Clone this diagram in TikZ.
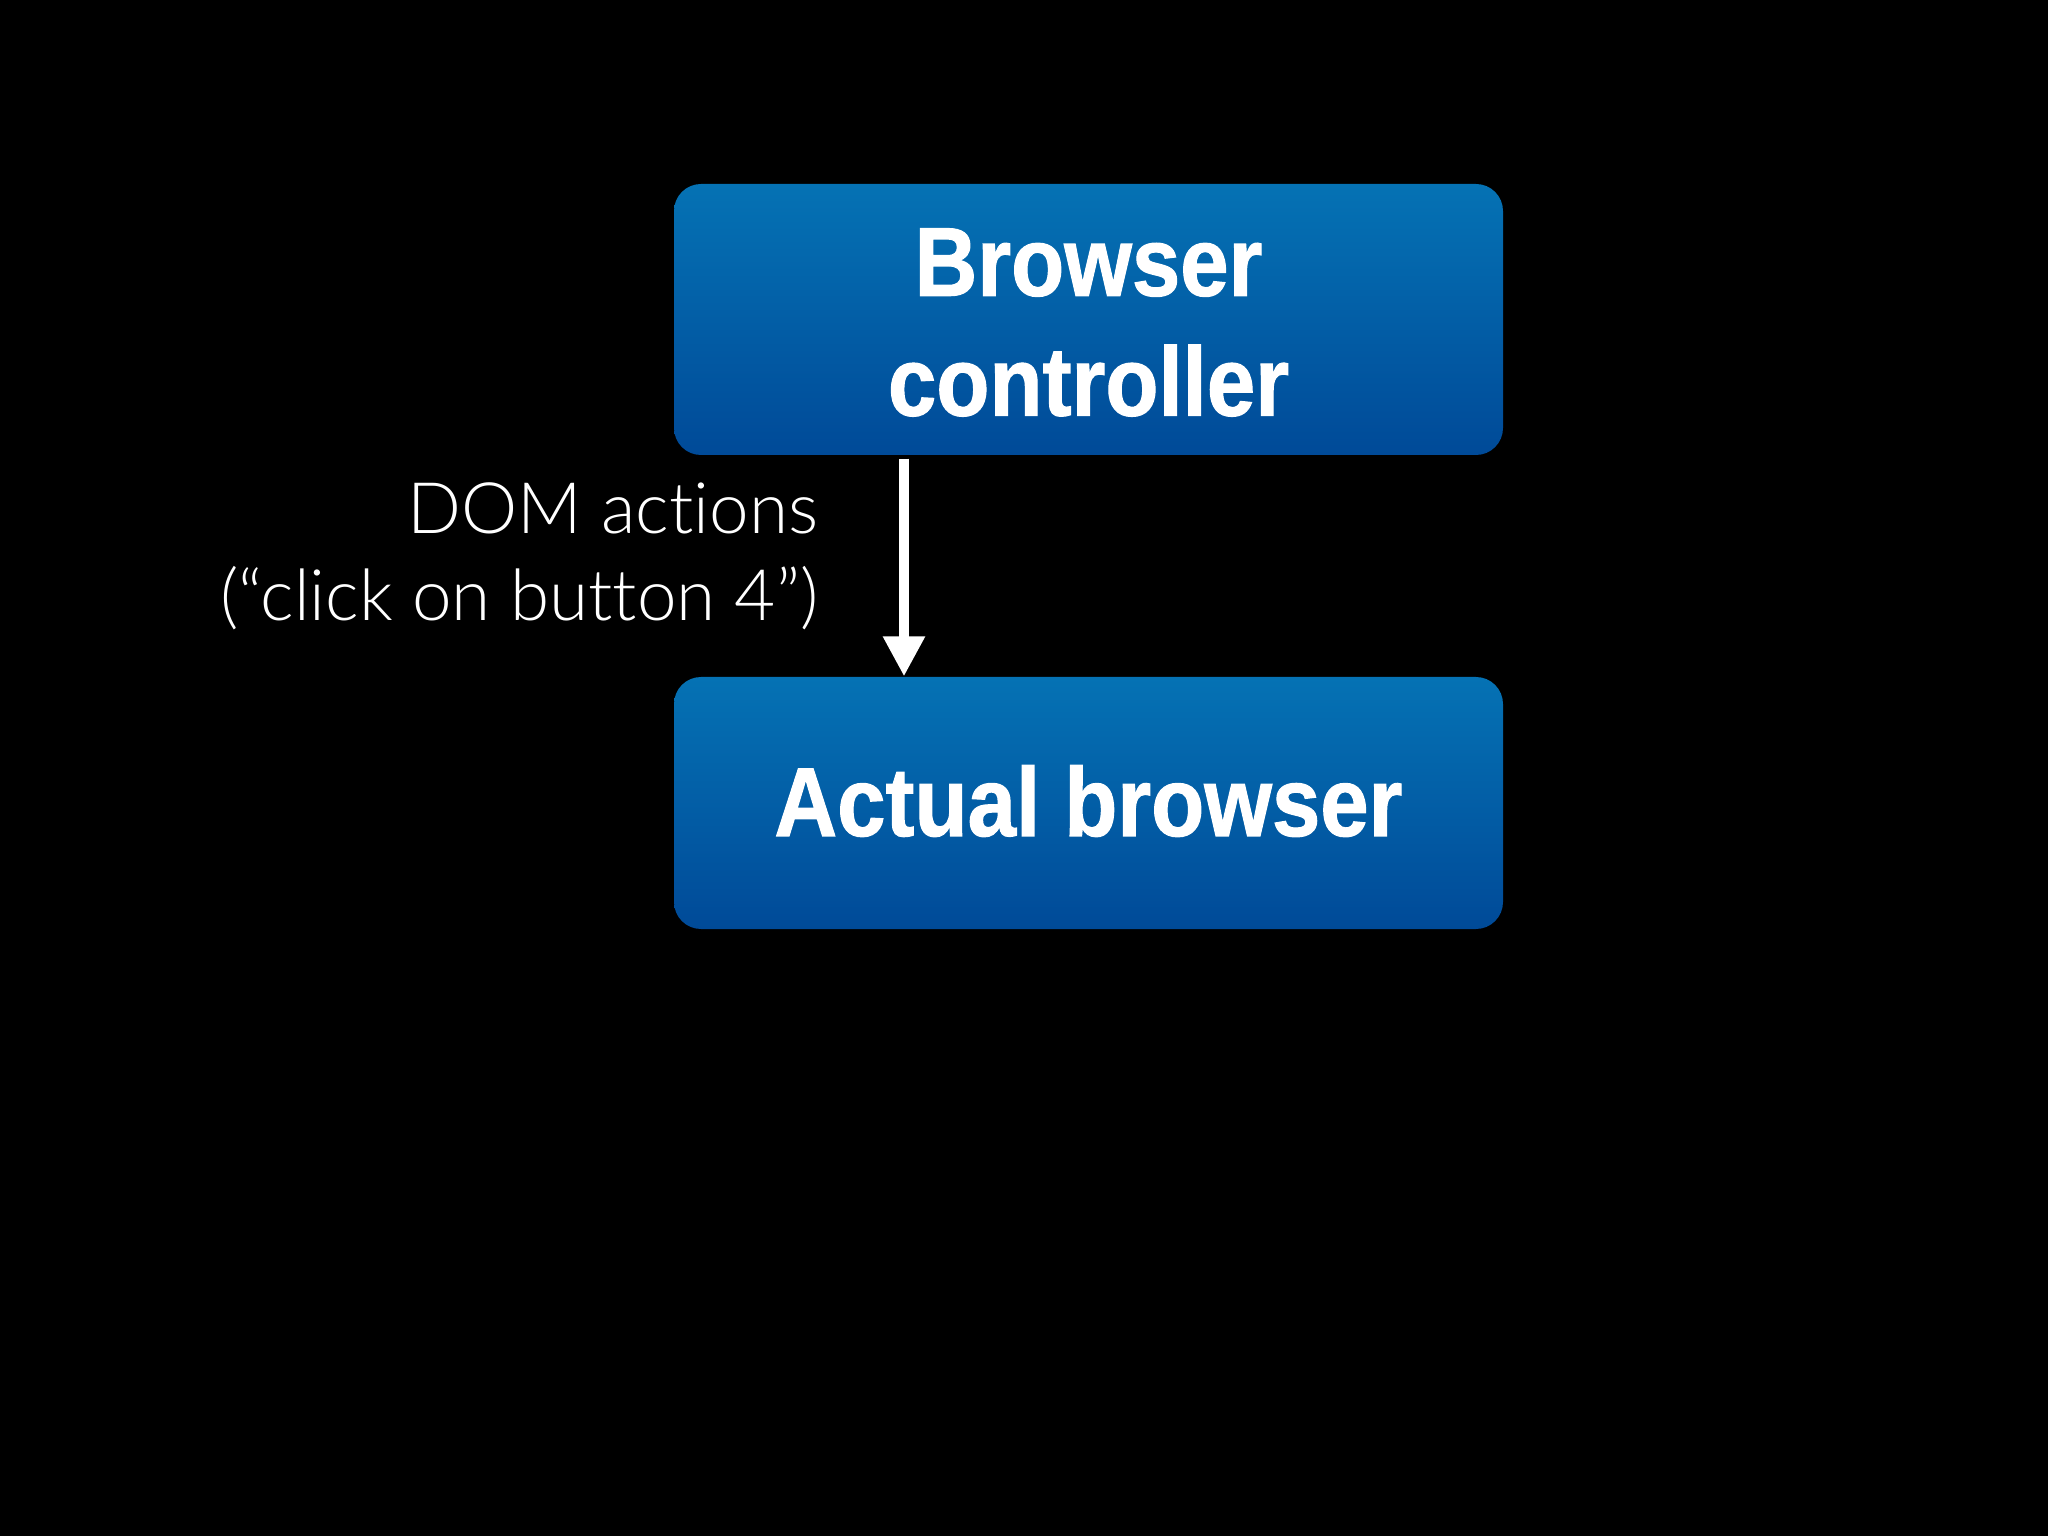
\documentclass[tikz,border=0pt]{standalone}
\usepackage{fontspec}
\usetikzlibrary{arrows.meta}
\IfFontExistsTF{Lato Light}{\newfontfamily\labelfont{Lato Light}[Ligatures=NoCommon]}{\newfontfamily\labelfont{Liberation Sans}}
\newfontfamily\boxfont{Liberation Sans Bold}[FakeBold=1.2]
\definecolor{boxtop}{RGB}{5,114,180}
\definecolor{boxbot}{RGB}{0,74,152}
\newcommand{\condline}[1]{\scalebox{0.89}[1]{#1}}
\tikzset{
  bluebox/.style={rounded corners=0.27cm, top color=boxtop, bottom color=boxbot, draw=none,
    minimum width=8.29cm, inner sep=0pt},
  boxtext/.style={align=center, text=white,
    font=\boxfont\fontsize{27.8}{34.1}\selectfont, inner sep=0pt},
  flowarrow/.style={draw=white, line width=2.6pt, -{Triangle[width=0.4cm,length=0.4cm]}},
  lbl/.style={text=white, align=right, font=\labelfont\fontsize{20.2}{24.75}\selectfont, inner sep=0pt}
}
\begin{document}
\begin{tikzpicture}
\fill[black] (0,0) rectangle (20.48,-15.36);
\useasboundingbox (0,0) rectangle (20.48,-15.36);
\node[bluebox, minimum height=2.71cm] (ctrl) at (10.885,-3.195) {};
\node[boxtext] (ctrltxt) at ([yshift=-0.03cm]ctrl.center) {\condline{Browser}\\\condline{controller}};
\node[bluebox, minimum height=2.52cm] (actual) at (10.885,-8.03) {};
\node[boxtext] (acttxt) at ([yshift=0.02cm]actual.center) {\condline{Actual browser}};
\coordinate (ax) at (9.04,0);
\draw[flowarrow] (ctrl.south -| ax) ++(0,-0.03) -- (actual.north -| ax);
\node[lbl, anchor=east] (dom) at (8.19,-5.56) {DOM actions\\(“click on button 4”)};
\end{tikzpicture}
\end{document}
